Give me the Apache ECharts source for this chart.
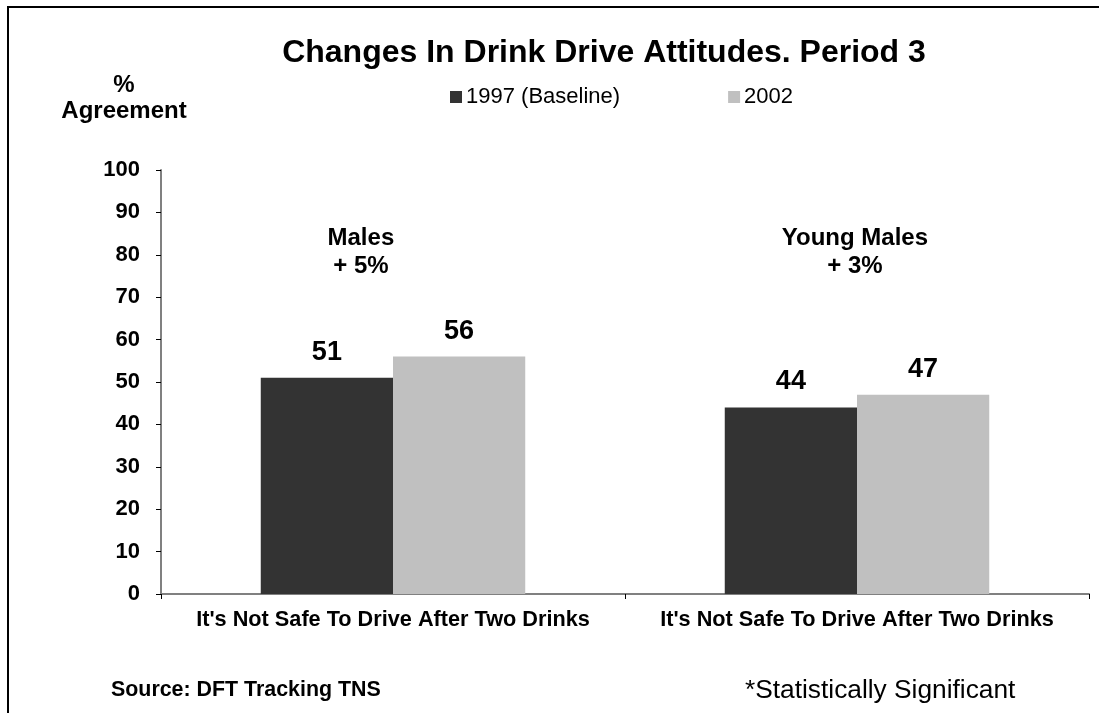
<!DOCTYPE html>
<html>
<head>
<meta charset="utf-8">
<script src="https://cdn.jsdelivr.net/npm/echarts@6/dist/echarts.min.js"></script>
<style>
html, body { margin: 0; padding: 0; background: #fff; }
#main { width: 1099px; height: 713px; }
</style>
</head>
<body>
<div id="main"></div>
<script>
var categories = ["It's Not Safe To Drive After Two Drinks (Males)", "It's Not Safe To Drive After Two Drinks (Young Males)"];
var seriesNames = ['1997 (Baseline)', '2002'];
var baseline1997 = [51, 44];
var values2002 = [56, 47];
var groupNotes = ['Males\n+ 5%', 'Young Males\n+ 3%'];
var yTicks = [0, 10, 20, 30, 40, 50, 60, 70, 80, 90, 100];

var font = 'Liberation Sans, Arial, sans-serif';
var noteOffsets = [34, 64];

var chart = echarts.init(document.getElementById('main'));

var option = {
    backgroundColor: '#fff',
    animation: false,
    title: {
        text: 'Changes In Drink Drive Attitudes. Period 3',
        left: 599,
        textAlign: 'center',
        top: 32,
        textStyle: { fontFamily: font, fontSize: 32, fontWeight: 'bold', color: '#000' }
    },
    legend: {
        data: seriesNames,
        left: 450,
        top: 86,
        padding: 0,
        itemWidth: 12,
        itemHeight: 12,
        itemGap: 108,
        icon: 'rect',
        textStyle: { fontFamily: font, fontSize: 22, color: '#000', padding: [0, 0, 0, -1] }
    },
    grid: { left: 161, right: 10, top: 170, bottom: 119, containLabel: false },
    xAxis: {
        type: 'category',
        data: categories,
        axisLine: { lineStyle: { color: '#808080', width: 2 } },
        axisTick: { show: true, interval: 0, length: 5, lineStyle: { color: '#000' } },
        axisLabel: {
            interval: 0,
            fontFamily: font, fontSize: 21.7, fontWeight: 'bold', color: '#000', margin: 15,
            formatter: function (v) { return v.replace(/ \(.*\)$/, ''); }
        }
    },
    yAxis: {
        type: 'value',
        min: yTicks[0],
        max: yTicks[yTicks.length - 1],
        interval: 10,
        splitLine: { show: false },
        axisLine: { show: true, lineStyle: { color: '#808080', width: 2 } },
        axisTick: { show: true, length: 5, lineStyle: { color: '#000' } },
        axisLabel: { fontFamily: font, fontSize: 22, fontWeight: 'bold', color: '#000', margin: 21 }
    },
    graphic: [
        {
            type: 'rect',
            shape: { x: 8, y: 7, width: 1200, height: 800 },
            style: { fill: 'none', stroke: '#000', lineWidth: 2 },
            silent: true
        },
        {
            type: 'text',
            style: { text: '%\nAgreement', x: 124, y: 72, textAlign: 'center', font: 'bold 24px ' + font, lineHeight: 26, fill: '#000' }
        },
        {
            type: 'text',
            style: { text: 'Source: DFT Tracking TNS', x: 111, y: 680, font: 'bold 21.4px ' + font, fill: '#000' }
        },
        {
            type: 'text',
            style: { text: '*Statistically Significant', x: 745, y: 678, font: '26.3px ' + font, fill: '#000' }
        }
    ],
    series: [
        {
            name: seriesNames[0],
            type: 'bar',
            data: baseline1997,
            barGap: '0%',
            barCategoryGap: '43%',
            itemStyle: { color: '#333333' },
            label: { show: true, position: 'top', distance: 12, fontFamily: font, fontSize: 27, fontWeight: 'bold', color: '#000' },
            markPoint: {
                symbol: 'rect',
                symbolSize: 0,
                data: groupNotes.map(function (t, i) {
                    return {
                        coord: [i, 80.5],
                        value: t,
                        label: { show: true, formatter: t, offset: [noteOffsets[i], 0], fontFamily: font, fontSize: 24, fontWeight: 'bold', color: '#000', lineHeight: 28 }
                    };
                })
            }
        },
        {
            name: seriesNames[1],
            type: 'bar',
            data: values2002,
            itemStyle: { color: '#c0c0c0' },
            label: { show: true, position: 'top', distance: 12, fontFamily: font, fontSize: 27, fontWeight: 'bold', color: '#000' }
        }
    ]
};

chart.setOption(option);
</script>
</body>
</html>
